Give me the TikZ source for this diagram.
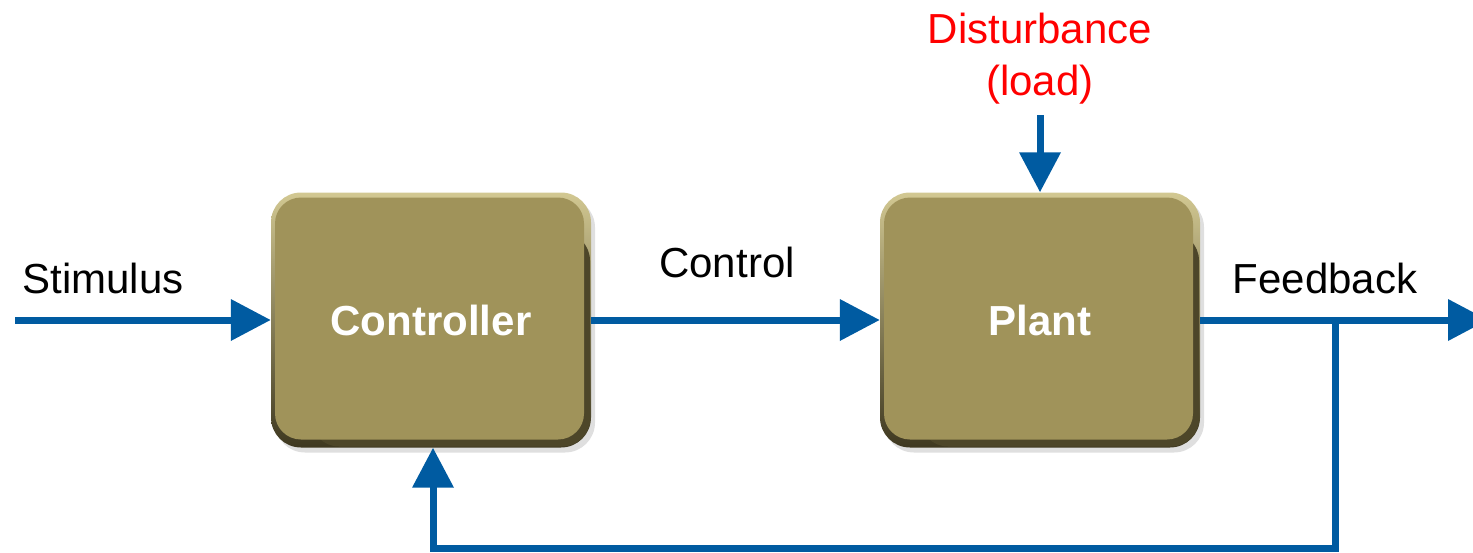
\documentclass[tikz,border=0pt]{standalone}
\usepackage{fontspec}
\setmainfont{Liberation Sans}
\usetikzlibrary{arrows.meta,shadows}
\definecolor{boxfill}{HTML}{A0935A}
\definecolor{boxlight}{HTML}{D2C892}
\definecolor{boxdark}{HTML}{3E3820}
\definecolor{flowblue}{HTML}{005BA1}
\begin{document}
\begin{tikzpicture}[x=1pt,y=-1pt,
  blk/.style={rounded corners=30pt, minimum width=320pt, minimum height=255pt,
    top color=boxlight, middle color=boxfill, bottom color=boxdark, inner sep=0pt,
    drop shadow={shadow xshift=4pt, shadow yshift=-5pt, fill=black!25, opacity=0.5},
    text=white, font=\fontsize{42}{50}\selectfont\bfseries,
    path picture={
      \fill[boxdark!85!boxfill, rounded corners=28pt]
      ([shift={(40pt,-40pt)}]path picture bounding box.north west) rectangle
      ([shift={(-1pt,1pt)}]path picture bounding box.south east);
      \fill[boxfill, rounded corners=26pt]
      ([shift={(4pt,-5pt)}]path picture bounding box.north west) rectangle
      ([shift={(-7pt,8pt)}]path picture bounding box.south east);}},
  flow/.style={draw=flowblue, line width=7pt, -{Triangle[length=40pt,width=40pt]}},
  lbl/.style={font=\fontsize{42}{50}\selectfont, text=black},
]
\useasboundingbox (0,0) rectangle (1473,552);
\node[blk] (ctrl) at (431,320) {Controller};
\node[blk] (plant) at (1040,320) {Plant};
\coordinate (in) at (15,320);
\coordinate (out) at (1488,320);
\coordinate (br) at (1335,320);
\coordinate (bl) at (433,548);
\coordinate (dtop) at (1040,115);
\draw[flow] (in) -- (ctrl.west);
\draw[flow] (ctrl.east) -- (plant.west);
\draw[flow] (plant.east) -- (out);
\draw[flow, line join=miter] (br) |- (bl) -- (bl |- ctrl.south);
\draw[flow] (dtop) -- (plant.north);
\node[lbl] (stim) at (103,278) {Stimulus};
\node[lbl] (ctl) at (727,262) {Control};
\node[lbl] (fb) at (1325,278) {Feedback};
\node[lbl, text=red, align=center, font=\fontsize{42}{52}\selectfont] (dist) at (1040,59) {Disturbance\\(load)};
\end{tikzpicture}
\end{document}
